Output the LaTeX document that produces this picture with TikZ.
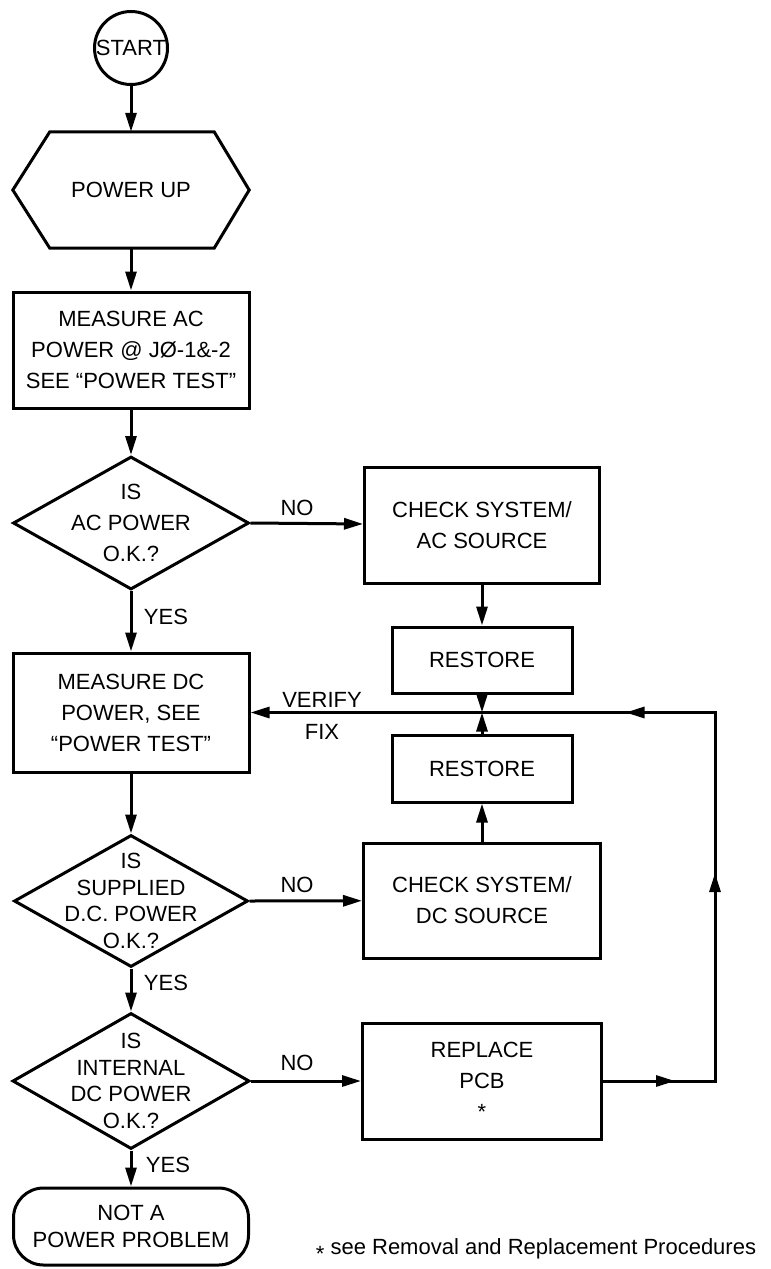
\documentclass[tikz,border=0pt]{standalone}
\usepackage{fontspec}
\setmainfont{Liberation Sans}
\usetikzlibrary{arrows.meta,shapes.geometric,decorations.markings}
\begin{document}
\begin{tikzpicture}[x=1pt,y=-1pt,
  every node/.style={font=\fontsize{22}{31}\selectfont, inner sep=0pt},
  bord/.style={line width=3pt},
  boxst/.style={draw, bord, rectangle, align=center},
  diast/.style={draw, bord, diamond},
  txt/.style={align=center},
  four/.style={align=center, font=\fontsize{22}{26.5}\selectfont},
  tip/.tip={Triangle[length=19pt,width=11pt]},
  arr/.style={bord, -tip},
]
\useasboundingbox (0,0) rectangle (771,1269);

% left column
\node[draw, bord, circle, minimum size=73pt] (start) at (131,48) {\makebox[0pt]{START}};
\node[minimum width=236pt, minimum height=116pt] (pu) at (131,190) {POWER UP};
\draw[bord] (pu.west) -- ([xshift=37pt]pu.north west) -- ([xshift=-35pt]pu.north east)
  -- (pu.east) -- ([xshift=-35pt]pu.south east) -- ([xshift=37pt]pu.south west) -- cycle;
\node[boxst, minimum width=236pt, minimum height=116pt] (mac) at (131,350)
  {MEASURE AC\\POWER @ J\O-1\&-2\\SEE ``POWER TEST''};
\node[diast, minimum width=236pt, minimum height=133pt] (d1) at (131,523) {};
\node[txt] (d1t) at (d1) {IS\\AC POWER\\O.K.?};
\node[boxst, minimum width=236pt, minimum height=119pt] (mdc) at (131,712.5)
  {MEASURE DC\\POWER, SEE\\``POWER TEST''};
\node[diast, minimum width=234pt, minimum height=132pt] (d2) at (131,901) {};
\node[four] (d2t) at (d2) {IS\\SUPPLIED\\D.C. POWER\\O.K.?};
\node[diast, minimum width=237pt, minimum height=136pt] (d3) at (131,1081) {};
\node[four] (d3t) at (d3) {IS\\INTERNAL\\DC POWER\\O.K.?};
\node[draw, bord, rounded corners=30pt, minimum width=235pt, minimum height=77pt, four] (term) at (131,1226.5)
  {NOT A\\POWER PROBLEM};

% right column
\node[boxst, minimum width=235pt, minimum height=116pt] (chk1) at (482,525) {CHECK SYSTEM/\\AC SOURCE};
\node[boxst, minimum width=180pt, minimum height=66pt] (rst1) at (482,660) {RESTORE};
\node[boxst, minimum width=180pt, minimum height=67pt] (rst2) at (482,768.5) {RESTORE};
\node[boxst, minimum width=237pt, minimum height=115pt] (chk2) at (482,900.5) {CHECK SYSTEM/\\DC SOURCE};
\node[boxst, minimum width=239pt, minimum height=116pt] (rep) at (482,1081) {REPLACE\\PCB\\*};

% labels
\node (no1) at (297,508) {NO};
\node (no2) at (297,885) {NO};
\node (no3) at (297,1063) {NO};
\node (yes1) at (166,617) {YES};
\node (yes2) at (166,983) {YES};
\node (yes3) at (168,1165) {YES};
\node (verify) at (322,700) {VERIFY};
\node (fix) at (322,732) {FIX};
\node (fn) at (536,1250) {\raisebox{-0.6ex}{*} see Removal and Replacement Procedures};

% connectors
\draw[arr] (start) -- (pu.north);
\draw[arr] (pu.south) -- (mac);
\draw[arr] (mac) -- (d1.north);
\draw[arr] (d1.south) -- (mdc);
\draw[arr] (mdc) -- (d2.north);
\draw[arr] (d2.south) -- (d3.north);
\draw[arr] (d3.south) -- (term);
\draw[arr] (d1.east) -- (chk1);
\draw[arr] (d2.east) -- (chk2);
\draw[arr] (d3.east) -- (rep);
\draw[arr] (chk1) -- (rst1);
\draw[arr] (chk2) -- (rst2);
\draw[arr] (rst1.south) -- (rst1.south |- mdc.east);
\draw[arr] (rst2.north) -- (rst2.north |- mdc.east);
\coordinate (cr) at (715,1081);
\draw[arr, postaction={decorate}, decoration={markings,
    mark=at position 72pt with {\arrow{tip}},
    mark=at position 320pt with {\arrow{tip}},
    mark=at position 570pt with {\arrow{tip}}}]
  (rep.east) -- (cr) |- (mdc.east);
\end{tikzpicture}
\end{document}
